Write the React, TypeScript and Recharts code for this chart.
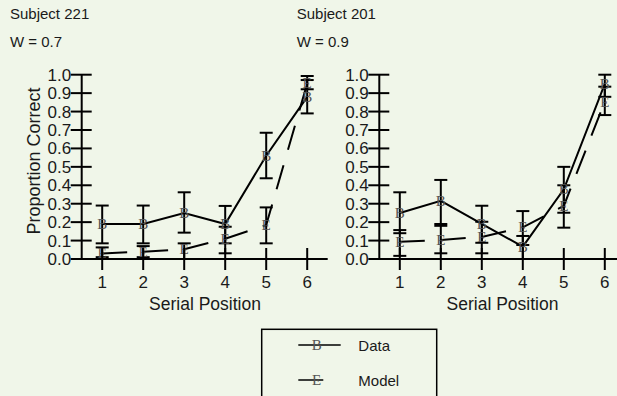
import React from 'react';
import { LineChart, Line, XAxis, YAxis, ErrorBar } from 'recharts';

const positions = [1, 2, 3, 4, 5, 6];
const yTicks = [0, 0.1, 0.2, 0.3, 0.4, 0.5, 0.6, 0.7, 0.8, 0.9, 1.0];

// Subject 221, W = 0.7
const s221Data = [0.19, 0.19, 0.25, 0.19, 0.56, 0.88];
const s221DataLow = [0.085, 0.085, 0.143, 0.031, 0.438, 0.79];
const s221DataHigh = [0.29, 0.29, 0.362, 0.288, 0.685, 0.971];
const s221Model = [0.03, 0.04, 0.053, 0.11, 0.184, 0.953];
const s221ModelLow = [0.01, 0.01, 0.0, 0.085, 0.085, 0.921];
const s221ModelHigh = [0.063, 0.07, 0.085, 0.175, 0.28, 0.993];

// Subject 201, W = 0.9
const s201Data = [0.25, 0.316, 0.19, 0.067, 0.378, 0.95];
const s201DataLow = [0.14, 0.18, 0.031, 0.0, 0.251, 0.88];
const s201DataHigh = [0.362, 0.429, 0.289, 0.125, 0.5, 1.0];
const s201Model = [0.094, 0.103, 0.12, 0.172, 0.288, 0.854];
const s201ModelLow = [0.017, 0.031, 0.088, 0.076, 0.17, 0.781];
const s201ModelHigh = [0.157, 0.19, 0.202, 0.26, 0.4, 0.935];

const seriesNames = ['Data', 'Model'];
const seriesMarks = ['B', 'E'];

const FONT = "'Liberation Sans', Arial, sans-serif";
const SERIF = "'Liberation Serif', 'Times New Roman', serif";
const BG = '#f0f6e9';
const DASH = '25 16';

function buildRows(data, dLow, dHigh, model, mLow, mHigh) {
  return positions.map((pos, i) => ({
    pos,
    data: data[i],
    dataErr: [data[i] - dLow[i], dHigh[i] - data[i]],
    model: model[i],
    modelErr: [model[i] - mLow[i], mHigh[i] - model[i]],
  }));
}

const rows221 = buildRows(s221Data, s221DataLow, s221DataHigh, s221Model, s221ModelLow, s221ModelHigh);
const rows201 = buildRows(s201Data, s201DataLow, s201DataHigh, s201Model, s201ModelLow, s201ModelHigh);

const XTick = (props) => {
  const { x, y, payload } = props;
  return (
    <g>
      <line x1={x} x2={x} y1={y - 11} y2={y + 11} stroke="#000" strokeWidth={2} />
      <text x={x} y={y + 29} textAnchor="middle" fontSize={17} fontFamily={FONT} fill="#1a1a1a">
        {payload.value}
      </text>
    </g>
  );
};

const YTick = (props) => {
  const { x, y, payload } = props;
  return (
    <g>
      <line x1={x - 11} x2={x + 10} y1={y} y2={y} stroke="#000" strokeWidth={2} />
      <text x={x - 10.5} y={y + 6} textAnchor="end" fontSize={17} fontFamily={FONT} fill="#1a1a1a">
        {payload.value.toFixed(1)}
      </text>
    </g>
  );
};

const markDot = (mark) => (props) => {
  const { cx, cy, index } = props;
  return (
    <text key={`${mark}-${index}`} x={cx} y={cy + 5} textAnchor="middle" fontSize={15} fontFamily={SERIF} fill="#555">
      {mark}
    </text>
  );
};

function Panel({ rows, left, yAxisWidth }) {
  const width = 340;
  const plotWidth = 246;
  return (
    <div style={{ position: 'absolute', left, top: 0 }}>
      <LineChart
        width={width}
        height={330}
        data={rows}
        margin={{ top: 74.7, right: width - yAxisWidth - plotWidth, bottom: 31, left: 0 }}
      >
        <XAxis
          dataKey="pos"
          type="number"
          domain={[0.5, 6.5]}
          ticks={positions}
          interval={0}
          height={40}
          tickSize={0}
          tickMargin={0}
          tickLine={false}
          axisLine={{ stroke: '#000', strokeWidth: 2 }}
          tick={<XTick />}
        />
        <YAxis
          type="number"
          domain={[0, 1]}
          ticks={yTicks}
          interval={0}
          width={yAxisWidth}
          tickSize={0}
          tickMargin={0}
          tickLine={false}
          axisLine={{ stroke: '#000', strokeWidth: 2 }}
          tick={<YTick />}
        />
        <Line
          dataKey="model"
          name={seriesNames[1]}
          type="linear"
          stroke="#000"
          strokeWidth={2}
          strokeDasharray={DASH}
          dot={markDot(seriesMarks[1])}
          activeDot={false}
          isAnimationActive={false}
        >
          <ErrorBar dataKey="modelErr" direction="y" width={6.5} stroke="#000" strokeWidth={2} />
        </Line>
        <Line
          dataKey="data"
          name={seriesNames[0]}
          type="linear"
          stroke="#000"
          strokeWidth={2}
          dot={markDot(seriesMarks[0])}
          activeDot={false}
          isAnimationActive={false}
        >
          <ErrorBar dataKey="dataErr" direction="y" width={6.5} stroke="#000" strokeWidth={2} />
        </Line>
      </LineChart>
    </div>
  );
}

function Overlay() {
  const txt = { fontFamily: FONT, fill: '#1a1a1a' };
  return (
    <svg width={617} height={396} style={{ position: 'absolute', left: 0, top: 0, pointerEvents: 'none' }}>
      <text x={10} y={19} fontSize={15} {...txt}>Subject 221</text>
      <text x={10} y={46.5} fontSize={15} {...txt}>W = 0.7</text>
      <text x={296.7} y={19} fontSize={15} {...txt}>Subject 201</text>
      <text x={296.7} y={46.5} fontSize={15} {...txt}>W = 0.9</text>
      <text x={205} y={310} fontSize={17.5} textAnchor="middle" {...txt}>Serial Position</text>
      <text x={502.5} y={310} fontSize={17.5} textAnchor="middle" {...txt}>Serial Position</text>
      <text
        x={0}
        y={0}
        fontSize={18}
        textAnchor="middle"
        transform="translate(39.5 161) rotate(-90)"
        {...txt}
      >
        Proportion Correct
      </text>
      <rect x={261.7} y={329.3} width={175} height={100} fill="none" stroke="#000" strokeWidth={1.5} />
      {seriesNames.map((name, i) => {
        const y = i === 0 ? 345 : 380;
        return (
          <g key={name}>
            <line
              x1={298.3}
              x2={i === 1 ? 324 : 340.7}
              y1={y}
              y2={y}
              stroke="#000"
              strokeWidth={1.5}
              strokeDasharray={i === 1 ? DASH : undefined}
            />
            <text x={316.7} y={y + 5} textAnchor="middle" fontSize={15} fontFamily={SERIF} fill="#555">
              {seriesMarks[i]}
            </text>
            <text x={358.3} y={y + 5.5} fontSize={15} {...txt}>{name}</text>
          </g>
        );
      })}
    </svg>
  );
}

export default function App() {
  return (
    <div
      style={{
        position: 'absolute',
        left: 0,
        top: 0,
        width: 617,
        height: 396,
        overflow: 'hidden',
        background: BG,
      }}
    >
      <Panel rows={rows221} left={0} yAxisWidth={81.7} />
      <Panel rows={rows201} left={300} yAxisWidth={79.3} />
      <Overlay />
    </div>
  );
}
